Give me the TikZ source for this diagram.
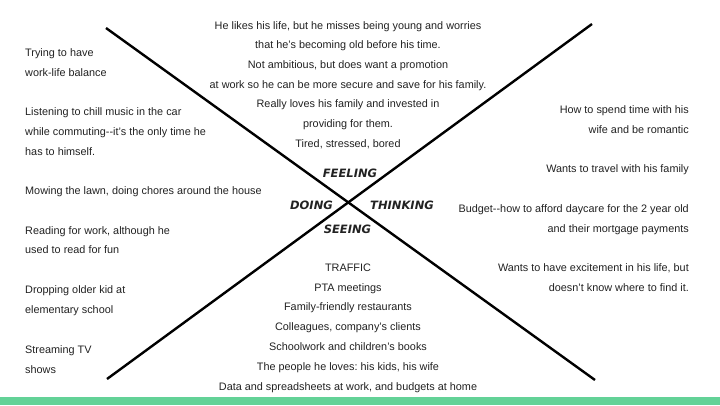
\documentclass[tikz,border=0pt]{standalone}
\usepackage{fontspec}
\setmainfont{Liberation Sans}
\newfontfamily\labfont{DejaVu Sans}
\definecolor{txt}{HTML}{222222}
\definecolor{barg}{HTML}{63D297}
\frenchspacing
\begin{document}
\begin{tikzpicture}[x=1pt,y=-1pt,
  body/.style={font=\fontsize{10.85}{13}\selectfont, text=txt, inner sep=0pt},
  lt/.style={body, anchor=base west},
  rt/.style={body, anchor=base east},
  ct/.style={body, anchor=base},
  lab/.style={font=\labfont\bfseries\itshape\fontsize{11.5}{13}\selectfont, text=txt, inner sep=0pt, anchor=center},
  axis/.style={line width=2.4pt, black}]
\useasboundingbox (0,0) rectangle (720,405);
\fill[white] (0,0) rectangle (720,405);
\fill[barg] (0,397) rectangle (720,405);
% crossing lines
\coordinate (tl) at (106,28);
\coordinate (br) at (595,380);
\coordinate (bl) at (107,379);
\coordinate (tr) at (592,24);
\draw[axis] (tl) -- (br);
\draw[axis] (bl) -- (tr);
% quadrant labels
\node[lab] (feel) at (350,173) {FEELING};
\node[lab] (do) at (311.5,205) {DOING};
\node[lab] (think) at (402,205) {THINKING};
\node[lab] (see) at (347.5,229) {SEEING};
% left column (doing)
\node[lt] (d1) at (25,56.5) {Trying to have};
\node[lt] (d2) at (25,76.2) {work-life balance};
\node[lt] (d3) at (25,115.5) {Listening to chill music in the car};
\node[lt] (d4) at (25,135.2) {while commuting-{}-it’s the only time he};
\node[lt] (d5) at (25,155) {has to himself.};
\node[lt] (d6) at (25,194.3) {Mowing the lawn, doing chores around the house};
\node[lt] (d7) at (25,234) {Reading for work, although he};
\node[lt] (d8) at (25,253.7) {used to read for fun};
\node[lt] (d9) at (25,293.3) {Dropping older kid at};
\node[lt] (d10) at (25,313) {elementary school};
\node[lt] (d11) at (25,353.3) {Streaming TV};
\node[lt] (d12) at (25,373) {shows};
% top (feeling)
\node[ct] (f1) at (348,29) {He likes his life, but he misses being young and worries};
\node[ct] (f2) at (348,48.7) {that he’s becoming old before his time.};
\node[ct] (f3) at (348,68.4) {Not ambitious, but does want a promotion};
\node[ct] (f4) at (348,88) {at work so he can be more secure and save for his family.};
\node[ct] (f5) at (348,107.7) {Really loves his family and invested in};
\node[ct] (f6) at (348,127.4) {providing for them.};
\node[ct] (f7) at (348,147) {Tired, stressed, bored};
% right (thinking)
\node[rt] (t1) at (689,113) {How to spend time with his};
\node[rt] (t2) at (689,133) {wife and be romantic};
\node[rt] (t3) at (689,172.7) {Wants to travel with his family};
\node[rt] (t4) at (689,212.3) {Budget-{}-how to afford daycare for the 2 year old};
\node[rt] (t5) at (689,232) {and their mortgage payments};
\node[rt] (t6) at (689,271.3) {Wants to have excitement in his life, but};
\node[rt] (t7) at (689,291.2) {doesn’t know where to find it.};
% bottom (seeing)
\node[ct] (s1) at (348,271.3) {TRAFFIC};
\node[ct] (s2) at (348,291.2) {PTA meetings};
\node[ct] (s3) at (348,310.8) {Family-friendly restaurants};
\node[ct] (s4) at (348,330.6) {Colleagues, company’s clients};
\node[ct] (s5) at (348,350.5) {Schoolwork and children’s books};
\node[ct] (s6) at (348,370.4) {The people he loves: his kids, his wife};
\node[ct] (s7) at (348,390.5) {Data and spreadsheets at work, and budgets at home};
\end{tikzpicture}
\end{document}
